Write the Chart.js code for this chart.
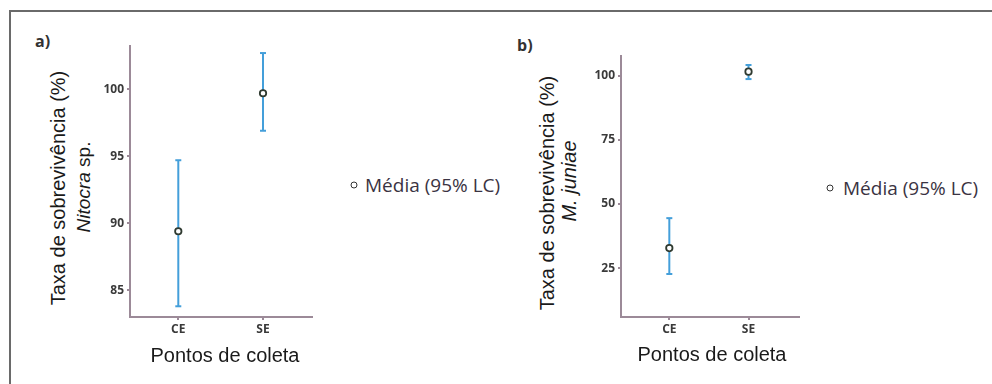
<!DOCTYPE html>
<html>
<head>
<meta charset="utf-8">
<script src="https://cdn.jsdelivr.net/npm/chart.js@4"></script>
<style>
  body { margin:0; background:#fff; }
  #page { position:relative; width:992px; height:384px; overflow:hidden; }
  #frame { position:absolute; left:9px; top:10px; width:990px; height:380px;
           border-top:2px solid #6a6a6a; border-left:2px solid #6a6a6a; }
  .box { position:absolute; }
  .txt { position:absolute; white-space:nowrap; color:#1a1a1a; }
  .ttl { font-family:"Liberation Sans", Arial, sans-serif; font-size:20px; }
  .rot { transform:translate(-50%,-50%) rotate(-90deg); }
  .ctr { transform:translate(-50%,-50%); }
  .lbl { font-family:"Open Sans", sans-serif; font-weight:bold; font-size:16px; color:#333; }
  .leg { font-family:"Open Sans", sans-serif; font-size:19px; color:#3a3342; transform:translateY(-50%); }
  .dot { position:absolute; width:5px; height:5px; border:1.5px solid #333; border-radius:50%;
         background:#fff; transform:translate(-50%,-50%); }
</style>
</head>
<body>
<div id="page">
  <div id="frame"></div>

  <div class="box" style="left:100px; top:45px; width:213px; height:302px;"><canvas id="chartA" width="213" height="302"></canvas></div>
  <div class="box" style="left:591px; top:55px; width:209px; height:292px;"><canvas id="chartB" width="209" height="292"></canvas></div>

  <div class="txt lbl" style="left:35px; top:30px;">a)</div>
  <div class="txt ttl rot" style="left:58px; top:188px;">Taxa de sobrevivência (%)</div>
  <div class="txt ttl rot" style="left:84px; top:187px; font-size:19px;"><i>Nitocra</i> sp.</div>
  <div class="txt ttl ctr" style="left:225px; top:355px;">Pontos de coleta</div>
  <div class="dot" style="left:354px; top:185px;"></div>
  <div class="txt leg" style="left:365px; top:185px;">Média (95% LC)</div>

  <div class="txt lbl" style="left:517px; top:34px;">b)</div>
  <div class="txt ttl rot" style="left:547px; top:193px;">Taxa de sobrevivência (%)</div>
  <div class="txt ttl rot" style="left:569px; top:181px;"><i>M. juniae</i></div>
  <div class="txt ttl ctr" style="left:712px; top:354px;">Pontos de coleta</div>
  <div class="dot" style="left:830px; top:188px;"></div>
  <div class="txt leg" style="left:843px; top:188px;">Média (95% LC)</div>
</div>

<script>
// sampling points
const categories = ["CE", "SE"];

// a) Nitocra sp.
const meanA  = [89.4, 99.7];
const lowerA = [83.8, 96.9];
const upperA = [94.7, 102.7];
const yTicksA = [85, 90, 95, 100];

// b) M. juniae
const meanB  = [32.8, 101.7];
const lowerB = [22.7, 98.8];
const upperB = [44.5, 104.3];
const yTicksB = [25, 50, 75, 100];

const axisColor = "#9c8a98";
const barColor  = "#449fda";

function makeChart(id, mean, lower, upper, yTicks, yMin, yMax, xMin, xMax) {
  const datasets = [{
    type: "scatter",
    data: mean.map((v, i) => ({x: i, y: v})),
    pointStyle: "circle",
    pointRadius: 3.2,
    borderWidth: 1.8,
    borderColor: "#2f3a30",
    backgroundColor: "#ffffff",
    order: 0
  }];
  categories.forEach((c, i) => {
    datasets.push({
      type: "line",
      data: [{x: i, y: lower[i]}, {x: i, y: upper[i]}],
      borderColor: barColor,
      borderWidth: 2,
      pointStyle: "line",
      pointRadius: 3,
      pointBorderWidth: 2,
      pointBorderColor: barColor,
      order: 1
    });
  });

  return new Chart(document.getElementById(id), {
    data: { datasets: datasets },
    options: {
      responsive: false,
      animation: false,
      devicePixelRatio: 1,
      layout: { padding: 0, autoPadding: false },
      clip: false,
      plugins: { legend: { display: false }, tooltip: { enabled: false } },
      scales: {
        x: {
          type: "linear",
          min: xMin, max: xMax,
          afterFit: s => { s.height = 30; s.paddingLeft = 0; s.paddingRight = 0; },
          afterBuildTicks: s => { s.ticks = categories.map((c, i) => ({value: i})); },
          ticks: {
            callback: v => categories[v],
            font: { family: "Open Sans", size: 12, weight: "bold" },
            color: "#3a3a3a",
            padding: 2
          },
          grid: { drawOnChartArea: false, drawTicks: true, tickLength: 3, color: axisColor, lineWidth: 2 },
          border: { color: axisColor, width: 2 }
        },
        y: {
          type: "linear",
          min: yMin, max: yMax,
          afterFit: s => { s.width = 30; s.paddingTop = 0; s.paddingBottom = 0; },
          afterBuildTicks: s => { s.ticks = yTicks.map(v => ({value: v})); },
          ticks: {
            font: { family: "Open Sans", size: 12, weight: "bold" },
            color: "#3a3a3a",
            padding: 3
          },
          grid: { drawOnChartArea: false, drawTicks: true, tickLength: 3, color: axisColor, lineWidth: 2 },
          border: { color: axisColor, width: 2 }
        }
      }
    }
  });
}

makeChart("chartA", meanA, lowerA, upperA, yTicksA, 83.0, 103.3, -0.57, 1.59);
makeChart("chartB", meanB, lowerB, upperB, yTicksB, 5.9, 108.2, -0.61, 1.65);
</script>
</body>
</html>
